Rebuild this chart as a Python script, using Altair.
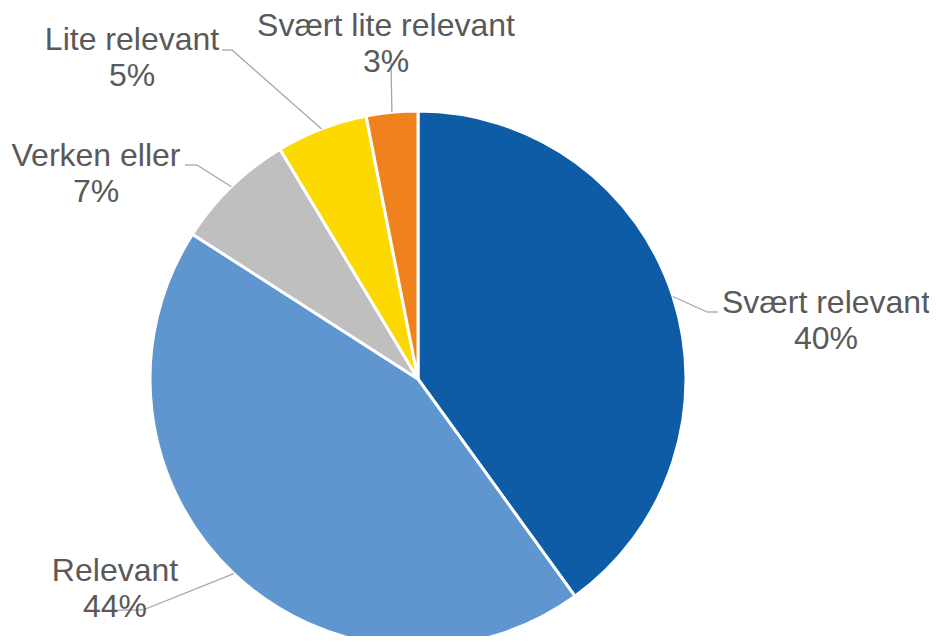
import math
import altair as alt
import pandas as pd

# ---- data ----
categories = ["Svært relevant", "Relevant", "Verken eller", "Lite relevant", "Svært lite relevant"]
values = [40.0, 44.0, 7.3, 5.5, 3.1]
pct_labels = ["40%", "44%", "7%", "5%", "3%"]
colors = ["#0E5CA6", "#6096CF", "#BFBFBF", "#FCD900", "#EF821C"]

# ---- layout (chart pixel coordinates) ----
W, H = 921, 628
CX, CY, R = 410, 371, 268
name_pos = [(818, 305), (107, 573), (88, 158), (124, 42), (378, 28)]
line_gap = 36
elbows = [(699, 304), (135, 602), (189, 157), (224, 42), (383, 55)]
ends = [(710, 304), (110, 602), (177, 157), (214, 42), (383, 55)]

df = pd.DataFrame({"cat": categories, "value": values, "idx": list(range(len(values)))})

# leader line start points at slice mid-angle edges
total = sum(values)
cum = 0.0
starts = []
for v in values:
    mid = (cum + v / 2) / total * 2 * math.pi
    starts.append((CX + R * math.sin(mid), CY - R * math.cos(mid)))
    cum += v

seg_rows = []
for (s, e, f) in zip(starts, elbows, ends):
    seg_rows.append({"x": s[0], "y": s[1], "x2": e[0], "y2": e[1]})
    seg_rows.append({"x": e[0], "y": e[1], "x2": f[0], "y2": f[1]})
seg_df = pd.DataFrame(seg_rows)

lab_rows = []
for c, p, pos in zip(categories, pct_labels, name_pos):
    lab_rows.append({"t": c, "lx": pos[0], "ly": pos[1]})
    lab_rows.append({"t": p, "lx": pos[0], "ly": pos[1] + line_gap})
lab_df = pd.DataFrame(lab_rows)

pie = alt.Chart(df).mark_arc(radius=R, stroke="white", strokeWidth=3).encode(
    theta=alt.Theta("value:Q", stack=True),
    color=alt.Color("cat:N", scale=alt.Scale(domain=categories, range=colors), legend=None),
    order=alt.Order("idx:Q"),
    x=alt.value(CX),
    y=alt.value(CY),
)

lines = alt.Chart(seg_df).mark_rule(color="#A6A6A6", strokeWidth=1.3).encode(
    x=alt.X("x:Q", scale=None),
    y=alt.Y("y:Q", scale=None),
    x2="x2:Q",
    y2="y2:Q",
)

labels = alt.Chart(lab_df).mark_text(
    font="Liberation Sans", fontSize=32, color="#595959", align="center", baseline="alphabetic"
).encode(
    x=alt.X("lx:Q", scale=None),
    y=alt.Y("ly:Q", scale=None),
    text="t:N",
)

chart = alt.layer(pie, lines, labels).properties(
    width=W, height=H, padding=0, autosize="none"
).configure_view(stroke=None)

chart.save("out.html", embed_options={"renderer": "svg", "actions": False})
